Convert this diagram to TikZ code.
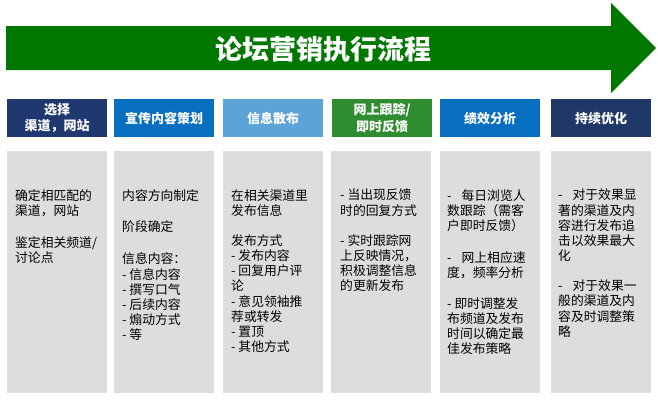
\documentclass[tikz,border=0pt]{standalone}
\usepackage{fontspec}
\setmainfont{Noto Sans CJK SC}
\definecolor{arrowgreen}{RGB}{0,120,0}
\definecolor{hnavy}{RGB}{31,57,112}
\definecolor{hblue}{RGB}{8,111,192}
\definecolor{hlight}{RGB}{92,163,216}
\definecolor{hgreen}{RGB}{47,140,47}
\definecolor{hnavyb}{RGB}{31,56,104}
\definecolor{boxgray}{RGB}{221,221,221}
\tikzset{
  hdr/.style={minimum width=100bp, minimum height=38bp, inner sep=0pt, anchor=north west,
    text=white, font=\bfseries\fontsize{13bp}{16.5bp}\selectfont, align=center},
  bodybox/.style={fill=boxgray, minimum width=100bp, minimum height=242bp, inner sep=0pt, anchor=north west},
  txt/.style={anchor=north west, inner sep=0pt, align=left, text=black,
    font=\fontsize{12.8bp}{15.2bp}\selectfont},
}
\newcommand{\wsp}{\hspace{10bp}}
\begin{document}
\begin{tikzpicture}[x=1bp,y=-1bp]
\useasboundingbox (0,0) rectangle (658,400);
% big arrow
\fill[arrowgreen] (6,26) -- (611,26) -- (611,3) -- (656,48) -- (611,93) -- (611,70) -- (6,70) -- cycle;
\node[text=white, font=\bfseries\fontsize{27bp}{30bp}\selectfont, inner sep=0pt] (title) at (323,49) {论坛营销执行流程};
% headers
\node[hdr, fill=hnavy]  (h1) at (7,99)   {选择\\渠道，网站};
\node[hdr, fill=hblue]  (h2) at (114,99) {宣传内容策划};
\node[hdr, fill=hlight] (h3) at (223,99) {信息散布};
\node[hdr, fill=hgreen] (h4) at (332,99) {网上跟踪/\\即时反馈};
\node[hdr, fill=hblue]  (h5) at (440,99) {绩效分析};
\node[hdr, fill=hnavyb] (h6) at (551,99) {持续优化};
% gray bodies
\node[bodybox] (b1) at (7,151) {};
\node[bodybox] (b2) at (114,151) {};
\node[bodybox] (b3) at (223,151) {};
\node[bodybox] (b4) at (331,151) {};
\node[bodybox] (b5) at (440,151) {};
\node[bodybox] (b6) at (551,151) {};
% texts
\node[txt] (t1) at (15,189) {确定相匹配的\\渠道，网站\\[17bp]鉴定相关频道/\\讨论点};
\node[txt] (t2) at (122,189) {内容方向制定\\[16.6bp]阶段确定\\[16.9bp]信息内容：\\- 信息内容\\- 撰写口气\\- 后续内容\\- 煽动方式\\- 等};
\node[txt] (t3) at (231,189) {在相关渠道里\\发布信息\\[14.8bp]发布方式\\- 发布内容\\- 回复用户评\\论\\- 意见领袖推\\荐或转发\\- 置顶\\- 其他方式};
\node[txt] (t4) at (340,189) {- 当出现反馈\\时的回复方式\\[14.8bp]- 实时跟踪网\\上反映情况，\\积极调整信息\\的更新发布};
\node[txt] (t5) at (447,189) {-\wsp 每日浏览人\\数跟踪（需客\\户即时反馈）\\[16.5bp]-\wsp 网上相应速\\度，频率分析\\[15.8bp]- 即时调整发\\布频道及发布\\时间以确定最\\佳发布策略};
\node[txt] (t6) at (558,189) {-\wsp 对于效果显\\著的渠道及内\\容进行发布追\\击以效果最大\\化\\[14.8bp]-\wsp 对于效果一\\般的渠道及内\\容及时调整策\\略};
\end{tikzpicture}
\end{document}
